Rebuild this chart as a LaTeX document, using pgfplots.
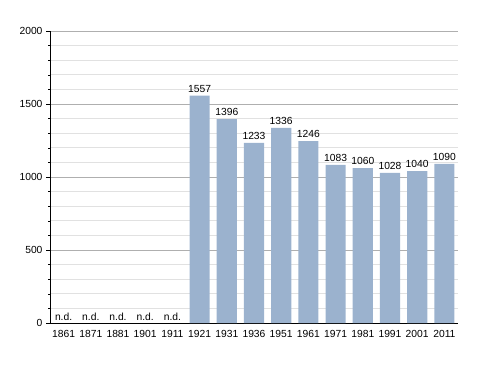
\documentclass[border=0pt]{standalone}
\usepackage{pgfplots}
\pgfplotsset{compat=1.18}
\usepackage{fontspec}
\setmainfont{Liberation Sans}
\definecolor{barblue}{RGB}{155,178,206}
\definecolor{majgrid}{RGB}{175,175,175}
\definecolor{mingrid}{RGB}{225,225,225}
\begin{document}
\begin{tikzpicture}
\path (0pt,0pt) rectangle (488pt,373pt);
\begin{axis}[
  at={(50pt,50pt)}, anchor=south west,
  scale only axis, width=408pt, height=292pt,
  xmin=-0.5, xmax=14.5, ymin=0, ymax=2000,
  axis lines*=left,
  axis line style={black, line width=0.8pt},
  xtick={0,...,14},
  xticklabels={1861,1871,1881,1901,1911,1921,1931,1936,1951,1961,1971,1981,1991,2001,2011},
  ytick={0,500,1000,1500,2000},
  minor y tick num=4,
  ymajorgrids, yminorgrids,
  major grid style={majgrid, line width=0.7pt},
  minor grid style={mingrid, line width=0.7pt},
  tick align=outside,
  x tick style={draw=none},
  y tick style={black, line width=0.6pt},
  major tick length=4pt, minor tick length=2pt,
  tick label style={font=\fontsize{10.3}{12}\selectfont},
  /pgf/number format/assume math mode=true,
  /pgf/number format/1000 sep={},
  scaled y ticks=false,
  clip=false,
]
\addplot[ybar, bar width=0.74, fill=barblue, draw=none,
  nodes near coords, every node near coord/.append style={font=\fontsize{10.3}{12}\selectfont, black}]
coordinates {(5,1557) (6,1396) (7,1233) (8,1336) (9,1246) (10,1083) (11,1060) (12,1028) (13,1040) (14,1090)};
\addplot[only marks, mark=none, nodes near coords, point meta=explicit symbolic,
  every node near coord/.append style={font=\fontsize{10.3}{12}\selectfont, black, inner sep=2pt}]
coordinates {(0,0)[n.d.] (1,0)[n.d.] (2,0)[n.d.] (3,0)[n.d.] (4,0)[n.d.]};
\end{axis}
\end{tikzpicture}
\end{document}
